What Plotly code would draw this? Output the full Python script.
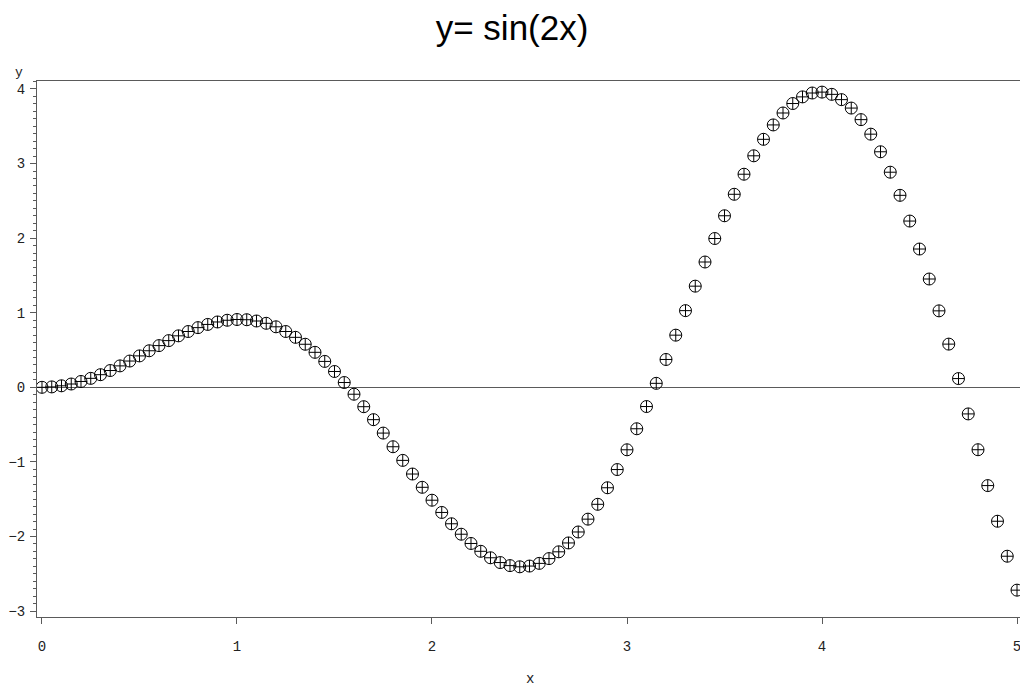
import plotly.graph_objects as go

x_values = [round(0.05 * i, 2) for i in range(101)]
y_values = [
    0.000, 0.005, 0.020, 0.044, 0.078, 0.120, 0.169, 0.225, 0.287, 0.352,
    0.421, 0.490, 0.559, 0.626, 0.690, 0.748, 0.800, 0.843, 0.876, 0.899,
    0.909, 0.906, 0.889, 0.858, 0.811, 0.748, 0.670, 0.577, 0.469, 0.347,
    0.212, 0.064, -0.093, -0.260, -0.434, -0.614, -0.797, -0.980, -1.163, -1.341,
    -1.514, -1.678, -1.830, -1.970, -2.094, -2.199, -2.286, -2.350, -2.391, -2.407,
    -2.397, -2.361, -2.297, -2.206, -2.087, -1.940, -1.768, -1.569, -1.347, -1.103,
    -0.838, -0.556, -0.258, 0.053, 0.373, 0.699, 1.028, 1.356, 1.680, 1.995,
    2.300, 2.588, 2.857, 3.104, 3.325, 3.518, 3.678, 3.805, 3.894, 3.946,
    3.958, 3.928, 3.857, 3.744, 3.589, 3.394, 3.158, 2.884, 2.574, 2.229,
    1.854, 1.452, 1.025, 0.579, 0.117, -0.357, -0.837, -1.318, -1.796, -2.265,
    -2.720,
]
x_ticks = [0, 1, 2, 3, 4, 5]
y_ticks = [-3, -2, -1, 0, 1, 2, 3, 4]
y_tick_labels = ["\u22123", "\u22122", "\u22121", "0", "1", "2", "3", "4"]

mono = "Liberation Mono, Courier New, monospace"
axis_col = "#5a5a5a"

fig = go.Figure()
fig.add_trace(go.Scatter(
    x=x_values, y=y_values, mode="markers",
    marker=dict(symbol="circle-cross-open", size=12, color="black",
                line=dict(width=1, color="black")),
    showlegend=False, hoverinfo="x+y",
))

fig.update_layout(
    width=1020, height=687,
    margin=dict(l=37, r=0, t=81, b=70),
    paper_bgcolor="white", plot_bgcolor="white",
    title=dict(text="y= sin(2x)", x=0.502, xanchor="center",
               y=1 - 28 / 687, yanchor="middle", yref="container",
               font=dict(family="Liberation Sans, Arial, sans-serif", size=35, color="black")),
    xaxis=dict(range=[-0.0256, 5.0154], tickvals=x_ticks, ticktext=[str(v) for v in x_ticks],
               showgrid=False, zeroline=False, showline=True, linecolor=axis_col, linewidth=1,
               mirror=True, ticks="outside", ticklen=6, tickcolor=axis_col, ticklabelstandoff=10,
               ticklabeloverflow="allow",
               tickfont=dict(family=mono, size=14, color="#222")),
    yaxis=dict(range=[-3.080, 4.107], tickvals=y_ticks, ticktext=y_tick_labels,
               showgrid=False, zeroline=True, zerolinecolor=axis_col, zerolinewidth=1,
               showline=True, linecolor=axis_col, linewidth=1,
               ticks="outside", ticklen=6, tickcolor=axis_col, ticklabelstandoff=2,
               minor=dict(dtick=0.1, ticks="outside", ticklen=3, tickcolor=axis_col, showgrid=False),
               tickfont=dict(family=mono, size=14, color="#222")),
    annotations=[
        dict(text="y", xref="paper", yref="paper", x=(19 - 37) / 983, y=(617 - 73) / 536,
             xanchor="center", yanchor="middle", showarrow=False,
             font=dict(family=mono, size=13, color="#222")),
        dict(text="x", xref="paper", yref="paper", x=(530 - 37) / 983, y=(617 - 679) / 536,
             xanchor="center", yanchor="middle", showarrow=False,
             font=dict(family=mono, size=14, color="#222")),
    ],
)

fig.write_html("out.html")
